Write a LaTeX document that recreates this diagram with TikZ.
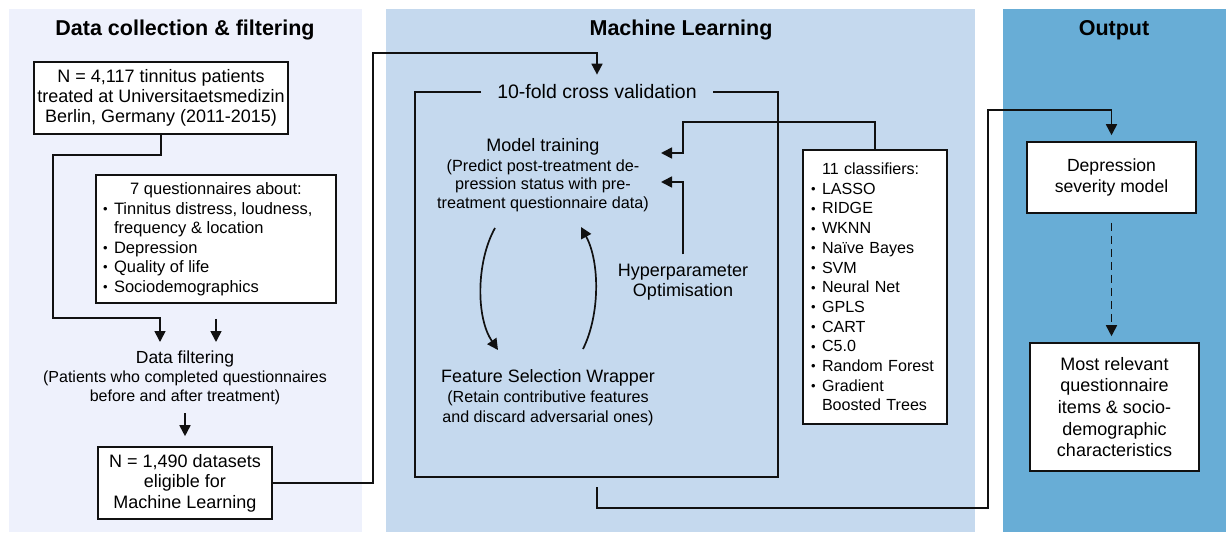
\documentclass[tikz,border=0pt]{standalone}
\usepackage{fontspec}
\setmainfont{Liberation Sans}
\usetikzlibrary{arrows.meta}
\newcommand\fsz[2]{\fontsize{#1}{#2}\selectfont}
\newcommand\bul[1]{\makebox[#1][l]{\raisebox{0.6pt}{\fsz{13}{13}\textbullet}}}
\definecolor{leftbg}{HTML}{EEF1FC}
\definecolor{midbg}{HTML}{C5D9EE}
\definecolor{outbg}{HTML}{68ADD6}
\definecolor{ln}{HTML}{111111}
\tikzset{
  paneltitle/.style={font=\fsz{21.5}{24}\bfseries, text=black, inner sep=0pt},
  box/.style={draw=ln, line width=1.6pt, fill=white, inner sep=0pt, align=center, text=black},
  plain/.style={inner sep=0pt, align=center, text=black},
  conn/.style={draw=ln, line width=1.7pt},
  arr/.style={conn, -{Triangle[length=11pt,width=11pt]}},
}
\begin{document}
\begin{tikzpicture}[x=1pt, y=-1pt]
\useasboundingbox (0,0) rectangle (1229,533);
% panels
\fill[leftbg] (9,9) rectangle (362,532);
\fill[midbg] (386,9) rectangle (975,532);
\fill[outbg] (1003,9) rectangle (1226,532);
\node[paneltitle] (t1) at (185,30) {Data collection \& filtering};
\node[paneltitle] (t2) at (681,30) {Machine Learning};
\node[paneltitle] (t3) at (1114,30) {Output};

% left column
\node[box, minimum width=254pt, minimum height=72pt, font=\fsz{18}{20}] (src) at (161,98)
  {N = 4,117 tinnitus patients\\treated at Universitaetsmedizin\\Berlin, Germany (2011-2015)};
\node[box, minimum width=240pt, minimum height=128pt, align=left, font=\fsz{16.5}{19.5}] (quest) at (216,239)
  {\makebox[226pt][c]{7 questionnaires about:}\\
   \bul{11pt}Tinnitus distress, loudness,\\
   \hspace*{11pt}frequency \& location\\
   \bul{11pt}Depression\\
   \bul{11pt}Quality of life\\
   \bul{11pt}Sociodemographics};
\node[plain, font=\fsz{16}{19}] (filt) at (185,378)
  {{\fsz{17.5}{19}Data filtering}\\(Patients who completed questionnaires\\before and after treatment)};
\node[box, minimum width=174pt, minimum height=72pt, font=\fsz{18}{20.5}] (dset) at (185,483)
  {N = 1,490 datasets\\eligible for\\Machine Learning};
\coordinate (f1) at (160,342);
\coordinate (f2) at (216,342);
\draw[arr] (src.south) |- (53,155) |- (160,318) -- (f1);
\draw[arr, shorten <=15pt] (quest.south) -- (f2);
\draw[arr, shorten <=8pt, shorten >=10pt] (filt.south) -- (dset.north);

% machine learning
\node[plain, inner xsep=16pt, inner ysep=3pt, font=\fsz{19.5}{22}] (cv) at (597,92) {10-fold cross validation};
\draw[conn] (cv.west) -- (415,92) -- (415,477) -- (778,477) -- (778,92) -- (cv.east);
\draw[arr, shorten >=7pt] (dset.east) -| (373,53) -| (cv.north);

\node[plain, font=\fsz{16.2}{18.5}] (mt) at (543,175)
  {{\fsz{18}{20}Model training}\\[1.5pt](Predict post-treatment de-\\pression status with pre-\\treatment questionnaire data)};
\node[plain, font=\fsz{18}{20.5}] (hp) at (683,282) {Hyperparameter\\Optimisation};
\node[plain, font=\fsz{16.1}{20}] (fs) at (548,398)
  {{\fsz{17.9}{20}Feature Selection Wrapper}\\(Retain contributive features\\and discard adversarial ones)};

\node[box, minimum width=144pt, minimum height=274pt, text width=128pt, align=left, font=\fsz{16.1}{19.7}] (clf) at (875,287)
  {\hspace*{11pt}11 classifiers:\\
   \bul{11pt}LASSO\\
   \bul{11pt}RIDGE\\
   \bul{11pt}WKNN\\
   \bul{11pt}Naïve Bayes\\
   \bul{11pt}SVM\\
   \bul{11pt}Neural Net\\
   \bul{11pt}GPLS\\
   \bul{11pt}CART\\
   \bul{11pt}C5.0\\
   \bul{11pt}Random Forest\\
   \bul{11pt}Gradient\\
   \hspace*{11pt}Boosted Trees};

\coordinate (mtin1) at (661,153);
\coordinate (mtin2) at (661,182);
\draw[arr] (clf.north) |- (683,122) |- (mtin1);
\draw[arr, shorten <=9pt] (hp.north) |- (mtin2);

\coordinate (c1s) at (495,228);
\coordinate (c1e) at (498,350);
\coordinate (c2s) at (583,349);
\coordinate (c2e) at (581,227);
\draw[arr] (c1s) .. controls (476,262) and (476,318) .. (c1e);
\draw[arr] (c2s) .. controls (600,315) and (600,262) .. (c2e);

% output
\node[box, minimum width=169pt, minimum height=71pt, font=\fsz{17.6}{21}] (dep) at (1111.5,177.5)
  {Depression\\severity model};
\node[box, minimum width=169pt, minimum height=128pt, font=\fsz{18}{21.6}] (rel) at (1114.5,407)
  {Most relevant\\questionnaire\\items \& socio-\\demographic\\characteristics};
\coordinate (cvb) at (597,477);
\draw[arr, shorten <=10pt, shorten >=6pt] (cvb) |- (988,508) -- (988,110) -| (dep.north);
\draw[arr, dash pattern=on 8pt off 5pt, shorten <=9pt, shorten >=6pt] (dep.south) -- (dep.south |- rel.north);
\end{tikzpicture}
\end{document}
